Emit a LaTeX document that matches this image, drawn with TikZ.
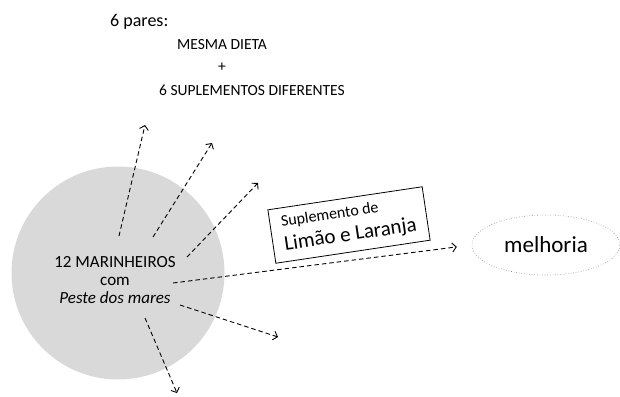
\documentclass[tikz,border=0pt]{standalone}
\usepackage{fontspec}
\setmainfont{Carlito}
\usetikzlibrary{arrows.meta,shapes.geometric}
\tikzset{
  darr/.style={draw=black, line width=0.9pt, dash pattern=on 4.5pt off 3pt, -{Straight Barb[length=4pt,width=9pt]}},
  lbl/.style={inner sep=0pt, font=\fontsize{15.5}{18}\selectfont},
}
\begin{document}
\begin{tikzpicture}[x=1pt,y=-1pt]
\useasboundingbox (0,0) rectangle (620,396);
% circle
\node[circle, fill=gray!30, minimum size=213pt, inner sep=0pt] (crowd) at (118,273) {};
\node[inner sep=0pt, align=center, font=\fontsize{17}{18}\selectfont] (crowdtxt) at (115,280)
  {12 MARINHEIROS\\com\\\textit{Peste dos mares}};
% top text
\node[lbl, font=\fontsize{18}{20}\selectfont, anchor=west] (pares) at (110,22) {6 pares:};
\node[lbl] (dieta) at (222,45) {MESMA DIETA};
\node[lbl] (plus) at (222,67) {+};
\node[lbl] (supl) at (252,90) {6 SUPLEMENTOS DIFERENTES};
% box
\node[draw, line width=0.8pt, rotate=8.5, minimum width=156pt, minimum height=54pt, inner sep=0pt, align=left, font=\fontsize{21}{24}\selectfont] (box) at (349,225)
  {{\fontsize{16}{18}\selectfont Suplemento de}\\Limão e Laranja};
% ellipse
\node[ellipse, draw=gray, dotted, line width=0.6pt, minimum width=148pt, minimum height=60pt, inner sep=0pt, font=\fontsize{23}{25}\selectfont] (mel) at (546,245) {melhoria};
% coordinates
\coordinate (s1) at (119,236); \coordinate (e1) at (145,125);
\coordinate (s2) at (153,237); \coordinate (e2) at (212,143);
\coordinate (s3) at (187,257); \coordinate (e3) at (258,183);
\coordinate (s4) at (173,283);
\coordinate (s5) at (180,305); \coordinate (e5) at (278,337);
\coordinate (s6) at (145,318); \coordinate (e6) at (177,393);
\draw[darr] (s1) -- (e1);
\draw[darr] (s2) -- (e2);
\draw[darr] (s3) -- (e3);
\draw[darr, shorten >=15pt] (s4) -- (mel.west);
\draw[darr] (s5) -- (e5);
\draw[darr] (s6) -- (e6);
\end{tikzpicture}
\end{document}
